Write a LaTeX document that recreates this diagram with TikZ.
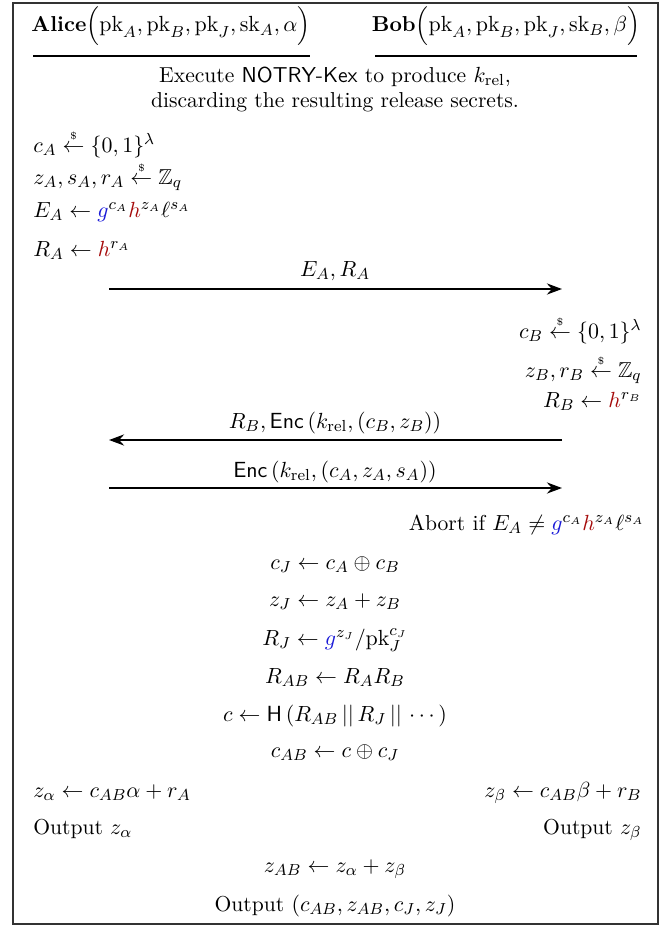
\documentclass[tikz,border=0pt]{standalone}
\usepackage{amsmath,amssymb}
\usetikzlibrary{arrows.meta}

\definecolor{genblue}{RGB}{25,25,215}
\definecolor{genred}{RGB}{165,10,10}
\newcommand{\gb}{{\color{genblue}g}}
\newcommand{\hr}{{\color{genred}h}}
\newcommand{\rnd}{\mathrel{\overset{\scriptscriptstyle\$}{\leftarrow}}}
\newcommand{\pk}{\mathrm{pk}}
\newcommand{\sk}{\mathrm{sk}}
\newcommand{\krel}{k_{\mathrm{rel}}}

\tikzset{
	txt/.style={inner sep=0pt, anchor=base, font=\fontsize{10.8}{13}\selectfont},
	lft/.style={txt, anchor=base west},
	rgt/.style={txt, anchor=base east},
	msg/.style={-{Stealth[length=7.5pt,width=5.5pt]}, line width=1.3pt},
}

\begin{document}
\begin{tikzpicture}[x=0.5pt,y=-0.5pt]
			
			\useasboundingbox (0,0) rectangle (670,926);
			\draw[line width=0.7pt, black!80] (13,3) rectangle (658,924);

			\node[txt] (alice) at (171,32) {\textbf{Alice}$\Bigl(\pk_A, \pk_B, \pk_J, \sk_A, \alpha\Bigr)$};
			\node[txt] (bob) at (506,32) {\textbf{Bob}$\Bigl(\pk_A, \pk_B, \pk_J, \sk_B, \beta\Bigr)$};
			\coordinate (ua1) at (33,56);
\coordinate (ua2) at (310,56);
\coordinate (ub1) at (375,56);
\coordinate (ub2) at (637,56);
			\draw[line width=0.7pt] (ua1) -- (ua2);
			\draw[line width=0.7pt] (ub1) -- (ub2);

			\node[txt] (kex1) at (335,82) {Execute \textsf{NOTRY-Kex} to produce $\krel$,};
			\node[txt] (kex2) at (335,107) {discarding the resulting release secrets.};

			\node[lft] (ca) at (33,152) {$c_A \rnd \{0,1\}^\lambda$};
\node[lft] (za) at (33,184) {$z_A, s_A, r_A \rnd \mathbb{Z}_q$};
\node[lft] (ea) at (33,217) {$E_A \leftarrow \gb^{c_A}\hr^{z_A}\ell^{s_A}$};
\node[lft] (ra) at (33,256) {$R_A \leftarrow \hr^{r_A}$};

			\coordinate (m1l) at (109,289);
\coordinate (m1r) at (562,289);
			\draw[msg] (m1l) -- (m1r);
			\node[txt] (m1) at (335,276) {$E_A, R_A$};

			\node[rgt] (cb) at (642,338) {$c_B \rnd \{0,1\}^\lambda$};
\node[rgt] (zb) at (642,377) {$z_B, r_B \rnd \mathbb{Z}_q$};
\node[rgt] (rb) at (642,407) {$R_B \leftarrow \hr^{r_B}$};

			\coordinate (m2l) at (109,440);
\coordinate (m2r) at (562,440);
			\draw[msg] (m2r) -- (m2l);
			\node[txt] (m2) at (335,428) {$R_B, \mathsf{Enc}\left(\krel, (c_B, z_B)\right)$};

			\coordinate (m3l) at (109,488);
\coordinate (m3r) at (562,488);
			\draw[msg] (m3l) -- (m3r);
			\node[txt] (m3) at (335,477) {$\mathsf{Enc}\left(\krel, (c_A, z_A, s_A)\right)$};

			\node[rgt] (abort) at (645,530) {Abort if $E_A \neq \gb^{c_A}\hr^{z_A}\ell^{s_A}$};

			\node[txt] (cj) at (335,569) {$c_J \leftarrow c_A \oplus c_B$};
\node[txt] (zj) at (335,606) {$z_J \leftarrow z_A + z_B$};
\node[txt] (rj) at (335,645) {$R_J \leftarrow \gb^{z_J}/\pk_J^{c_J}$};
\node[txt] (rab) at (335,683) {$R_{AB} \leftarrow R_A R_B$};
\node[txt] (hc) at (335,721) {$c \leftarrow \mathsf{H}\left(R_{AB} \,||\, R_J \,||\, \cdots\right)$};
\node[txt] (cab) at (335,757) {$c_{AB} \leftarrow c \oplus c_J$};

			\node[lft] (zal) at (33,797) {$z_\alpha \leftarrow c_{AB}\alpha + r_A$};
\node[lft] (oal) at (33,834) {Output $z_\alpha$};
\node[rgt] (zbe) at (642,797) {$z_\beta \leftarrow c_{AB}\beta + r_B$};
\node[rgt] (obe) at (642,834) {Output $z_\beta$};

			\node[txt] (zab) at (335,872) {$z_{AB} \leftarrow z_\alpha + z_\beta$};
\node[txt] (out) at (335,911) {Output $\left(c_{AB}, z_{AB}, c_J, z_J\right)$};

		\end{tikzpicture}
\end{document}
